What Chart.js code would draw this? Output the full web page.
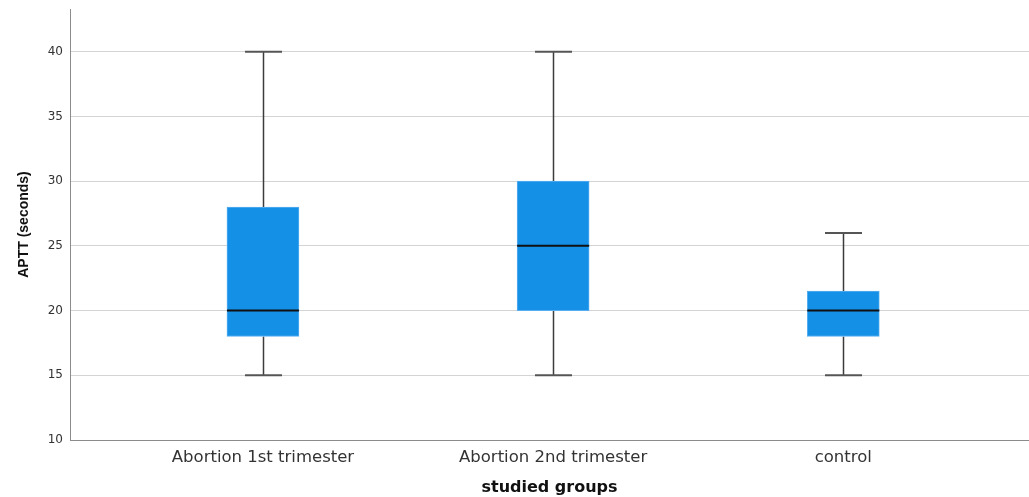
<!DOCTYPE html>
<html>
<head>
<meta charset="utf-8">
<script src="https://cdn.jsdelivr.net/npm/chart.js@4.4.1/dist/chart.umd.min.js"></script>
<style>
    html, body { margin: 0; padding: 0; background: #ffffff; }
    #wrap { width: 1029px; height: 497px; position: relative; }
</style>
</head>
<body>
<div id="wrap"><canvas id="boxChart"></canvas></div>
<script>
// Box plot values
const groups = ['Abortion 1st trimester', 'Abortion 2nd trimester', 'control'];
const groupPos = [1, 2, 3];
const minVals = [15, 15, 15];
const q1Vals = [18, 20, 18];
const medianVals = [20, 25, 20];
const q3Vals = [28, 30, 21.5];
const maxVals = [40, 40, 26];
const yTicks = [10, 15, 20, 25, 30, 35, 40];

// whiskers, caps and median lines drawn from the scales
const boxExtras = {
    id: 'boxExtras',
    beforeDatasetsDraw(chart) {
        const ctx = chart.ctx;
        const x = chart.scales.x;
        const y = chart.scales.y;
        const capHalf = 18.5;
        ctx.save();
        groupPos.forEach(function(p, i) {
            const cx = Math.round(x.getPixelForValue(p)) + 0.5;
            ctx.strokeStyle = '#3c3c3c';
            ctx.lineWidth = 1.5;
            ctx.beginPath();
            ctx.moveTo(cx, y.getPixelForValue(minVals[i]));
            ctx.lineTo(cx, y.getPixelForValue(q1Vals[i]));
            ctx.moveTo(cx, y.getPixelForValue(q3Vals[i]));
            ctx.lineTo(cx, y.getPixelForValue(maxVals[i]));
            ctx.stroke();
            ctx.strokeStyle = '#555555';
            ctx.lineWidth = 2;
            ctx.beginPath();
            [minVals[i], maxVals[i]].forEach(function(v) {
                const py = y.getPixelForValue(v);
                ctx.moveTo(cx - capHalf, py);
                ctx.lineTo(cx + capHalf, py);
            });
            ctx.stroke();
        });
        ctx.restore();
    },
    afterDatasetsDraw(chart) {
        const ctx = chart.ctx;
        const meta = chart.getDatasetMeta(0);
        const y = chart.scales.y;
        ctx.save();
        ctx.strokeStyle = '#111111';
        ctx.lineWidth = 2;
        meta.data.forEach(function(bar, i) {
            const half = bar.width / 2;
            const py = y.getPixelForValue(medianVals[i]);
            ctx.beginPath();
            ctx.moveTo(bar.x - half, py);
            ctx.lineTo(bar.x + half, py);
            ctx.stroke();
        });
        ctx.restore();
    }
};

const ctx = document.getElementById('boxChart').getContext('2d');
new Chart(ctx, {
    type: 'bar',
    data: {
        datasets: [{
            label: 'APTT',
            data: groupPos.map(function(p, i) { return { x: p, y: [q1Vals[i], q3Vals[i]] }; }),
            backgroundColor: '#1490e6',
            borderColor: '#58aef0',
            borderWidth: 1,
            borderSkipped: false,
            barThickness: 72
        }]
    },
    options: {
        responsive: true,
        maintainAspectRatio: false,
        animation: false,
        layout: { padding: { top: 9, right: 0, left: 0, bottom: 0 } },
        plugins: {
            legend: { display: false },
            tooltip: { enabled: false }
        },
        scales: {
            x: {
                type: 'linear',
                offset: false,
                min: 0.335,
                max: 3.64,
                afterBuildTicks: function(scale) {
                    scale.ticks = groupPos.map(function(p) { return { value: p }; });
                },
                afterFit: function(scale) {
                    scale.height = 57;
                    scale.paddingLeft = 0;
                    scale.paddingRight = 0;
                },
                grid: { display: false, drawTicks: false },
                border: { display: true, color: '#8c8c8c', width: 1 },
                ticks: {
                    padding: 8,
                    maxRotation: 0,
                    autoSkip: false,
                    color: '#333333',
                    font: { family: 'DejaVu Sans', size: 16.5 },
                    callback: function(value) { return groups[groupPos.indexOf(value)]; }
                },
                title: {
                    display: true,
                    text: 'studied groups',
                    color: '#111111',
                    padding: { top: 0, bottom: 0 },
                    font: { family: 'DejaVu Sans', size: 16, weight: 'bold' }
                }
            },
            y: {
                min: 10,
                max: 43.3,
                afterBuildTicks: function(scale) {
                    scale.ticks = yTicks.map(function(v) { return { value: v }; });
                },
                afterFit: function(scale) {
                    scale.width = 70;
                    scale.paddingTop = 0;
                    scale.paddingBottom = 0;
                },
                grid: { color: '#d4d4d4', lineWidth: 1, drawTicks: false },
                border: { display: true, color: '#8c8c8c', width: 1 },
                ticks: {
                    padding: 7,
                    color: '#333333',
                    font: { family: 'DejaVu Sans', size: 12 }
                },
                title: {
                    display: true,
                    text: 'APTT (seconds)',
                    color: '#111111',
                    padding: { top: 16, bottom: 0 },
                    font: { family: 'Liberation Sans', size: 14, weight: 'bold' }
                }
            }
        }
    },
    plugins: [boxExtras]
});
</script>
</body>
</html>
